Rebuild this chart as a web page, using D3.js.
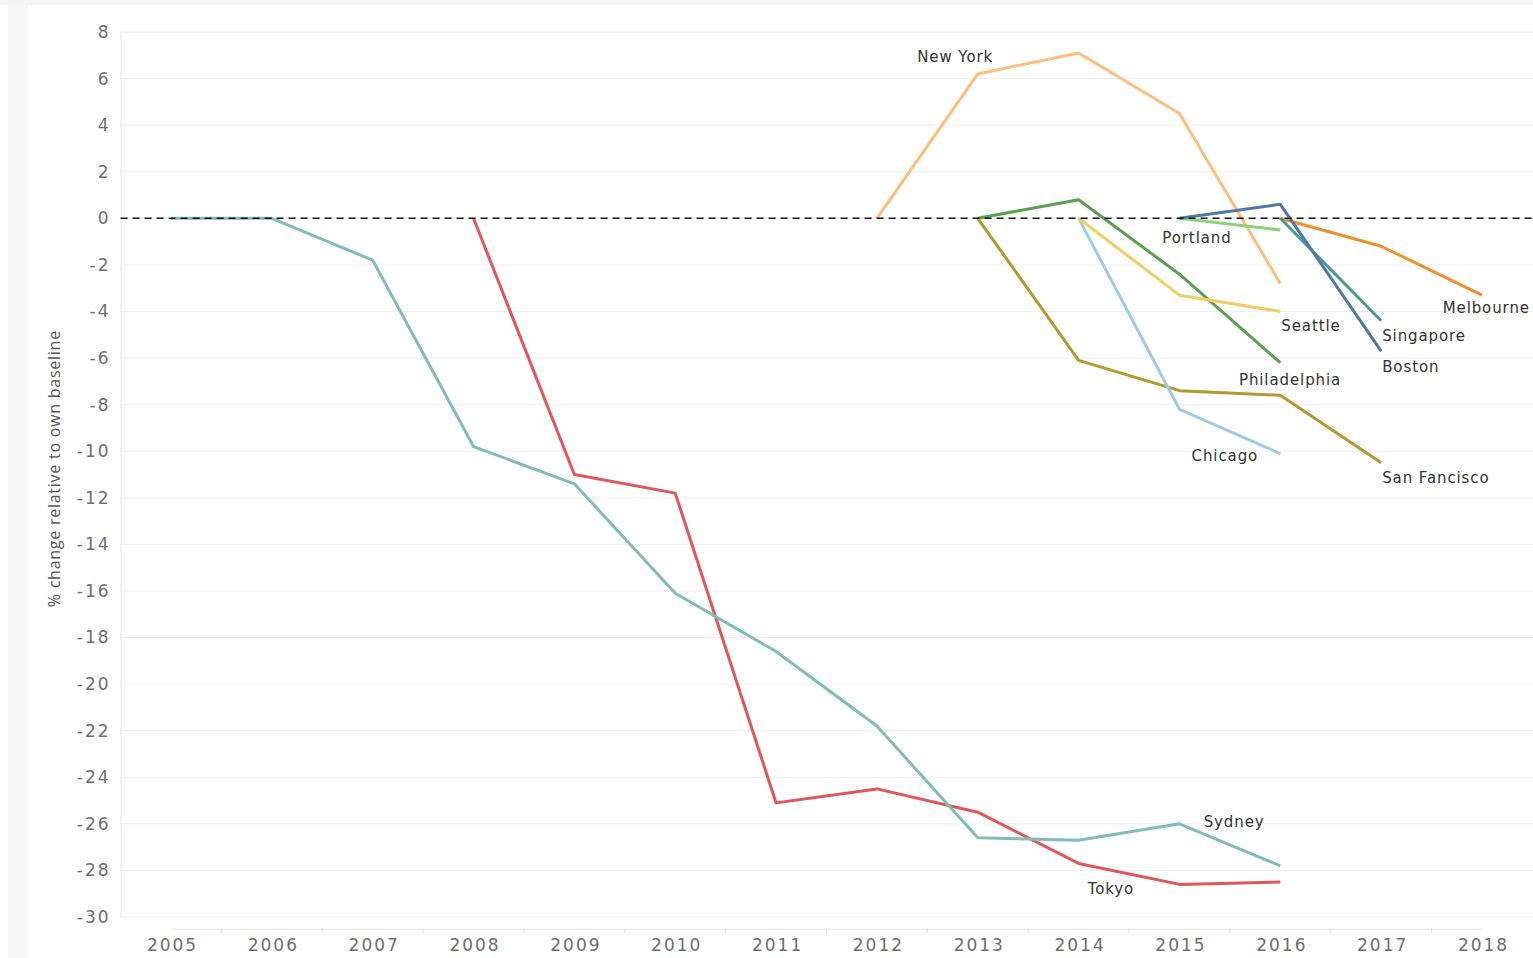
<!DOCTYPE html>
<html>
<head>
<meta charset="utf-8">
<script src="https://cdn.jsdelivr.net/npm/d3@7"></script>
<style>
  body { margin: 0; background: #fff; }
  svg { display: block; }
</style>
</head>
<body>
<div id="chart-area"></div>
<script>
// values, % change relative to own baseline
const sydneyYears = [2005, 2006, 2007, 2008, 2009, 2010, 2011, 2012, 2013, 2014, 2015, 2016];
const sydneyValues = [0, 0, -1.8, -9.8, -11.4, -16.1, -18.6, -21.8, -26.6, -26.7, -26.0, -27.8];

const tokyoYears = [2008, 2009, 2010, 2011, 2012, 2013, 2014, 2015, 2016];
const tokyoValues = [0, -11.0, -11.8, -25.1, -24.5, -25.5, -27.7, -28.6, -28.5];

const newYorkYears = [2012, 2013, 2014, 2015, 2016];
const newYorkValues = [0, 6.2, 7.1, 4.5, -2.8];

const philadelphiaYears = [2013, 2014, 2015, 2016];
const philadelphiaValues = [0, 0.8, -2.4, -6.2];

const sanFranciscoYears = [2013, 2014, 2015, 2016, 2017];
const sanFranciscoValues = [0, -6.1, -7.4, -7.6, -10.5];

const chicagoYears = [2014, 2015, 2016];
const chicagoValues = [0, -8.2, -10.1];

const seattleYears = [2014, 2015, 2016];
const seattleValues = [0, -3.3, -4.0];

const portlandYears = [2015, 2016];
const portlandValues = [0, -0.5];

const bostonYears = [2015, 2016, 2017];
const bostonValues = [0, 0.6, -5.7];

const singaporeYears = [2016, 2017];
const singaporeValues = [0, -4.4];

const melbourneYears = [2016, 2017, 2018];
const melbourneValues = [0, -1.2, -3.3];

const xTickYears = [2005, 2006, 2007, 2008, 2009, 2010, 2011, 2012, 2013, 2014, 2015, 2016, 2017, 2018];
const yTickValues = [8, 6, 4, 2, 0, -2, -4, -6, -8, -10, -12, -14, -16, -18, -20, -22, -24, -26, -28, -30];

const cities = [
    { name: 'Tokyo', years: tokyoYears, values: tokyoValues, color: '#e15759' },
    { name: 'Sydney', years: sydneyYears, values: sydneyValues, color: '#80bdb4' },
    { name: 'New York', years: newYorkYears, values: newYorkValues, color: '#ffbe7d' },
    { name: 'Philadelphia', years: philadelphiaYears, values: philadelphiaValues, color: '#59a14f' },
    { name: 'San Fancisco', years: sanFranciscoYears, values: sanFranciscoValues, color: '#b6992d' },
    { name: 'Chicago', years: chicagoYears, values: chicagoValues, color: '#a0cbe8' },
    { name: 'Seattle', years: seattleYears, values: seattleValues, color: '#f1ce63' },
    { name: 'Portland', years: portlandYears, values: portlandValues, color: '#8cd17d' },
    { name: 'Melbourne', years: melbourneYears, values: melbourneValues, color: '#f28e2b' },
    { name: 'Singapore', years: singaporeYears, values: singaporeValues, color: '#499894' },
    { name: 'Boston', years: bostonYears, values: bostonValues, color: '#4e79a7' }
];

// label anchors in data space (year, value) - left edge / vertical middle of text
const labelPlaces = {
    'New York': [2012.4, 6.95],
    'Portland': [2014.83, -0.83],
    'Seattle': [2016.01, -4.6],
    'Singapore': [2017.01, -5.05],
    'Melbourne': [2017.61, -3.86],
    'Boston': [2017.01, -6.38],
    'Philadelphia': [2015.59, -6.93],
    'Chicago': [2015.12, -10.2],
    'San Fancisco': [2017.01, -11.12],
    'Sydney': [2015.24, -25.9],
    'Tokyo': [2014.09, -28.8]
};

const W = 1533, H = 958;

const svg = d3.select('#chart-area')
    .append('svg')
    .attr('width', W)
    .attr('height', H);

const x = d3.scaleLinear().domain([2005, 2018]).range([171, 1482]);
const y = d3.scaleLinear().domain([-30, 8]).range([917, 32]);

const plotLeft = x(2004.5), plotRight = W;
const plotTop = y(9.0), plotBottom = y(-30.5);

// faint strips left and top (leftover of the screenshot)
svg.append('rect')
    .attr('x', 8).attr('y', 0).attr('width', 20).attr('height', H)
    .attr('fill', '#f6f6f6');
svg.append('rect')
    .attr('x', 0).attr('y', 0).attr('width', W).attr('height', 5)
    .attr('fill', '#f4f4f4');

// grid
svg.append('g')
    .selectAll('line')
    .data(yTickValues)
    .enter()
    .append('line')
    .attr('x1', plotLeft).attr('x2', plotRight)
    .attr('y1', d => y(d)).attr('y2', d => y(d))
    .attr('stroke', '#f0f0f0')
    .attr('stroke-width', 1);

// y axis
const yAxis = svg.append('g')
    .attr('transform', 'translate(' + plotLeft + ',0)')
    .call(d3.axisLeft(y).tickValues(yTickValues).tickFormat(d => String(d)).tickSize(0).tickPadding(10));
yAxis.select('.domain').attr('stroke', '#e6e6e6');
yAxis.selectAll('text')
    .attr('fill', '#6e6e6e')
    .style('font-family', 'DejaVu Sans')
    .style('font-size', '17px')
    .style('letter-spacing', '2px');

// x axis, ticks sit between the years
const xAxis = svg.append('g')
    .attr('transform', 'translate(0,' + plotBottom + ')')
    .call(d3.axisBottom(x).tickValues(xTickYears).tickFormat(d => String(d)).tickSize(0).tickPadding(10));
xAxis.select('.domain').attr('stroke', '#e6e6e6');
xAxis.selectAll('text')
    .attr('fill', '#6e6e6e')
    .attr('dx', 1)
    .style('font-family', 'DejaVu Sans')
    .style('font-size', '17px')
    .style('letter-spacing', '2px');
svg.append('g')
    .selectAll('line')
    .data(xTickYears.slice(0, -1))
    .enter()
    .append('line')
    .attr('x1', d => x(d + 0.5)).attr('x2', d => x(d + 0.5))
    .attr('y1', plotBottom).attr('y2', plotBottom + 4)
    .attr('stroke', '#e0e0e0');

// axis title
svg.append('text')
    .attr('transform', 'translate(60,' + ((plotTop + plotBottom) / 2) + ') rotate(-90)')
    .attr('text-anchor', 'middle')
    .attr('fill', '#555')
    .style('font-family', 'Open Sans')
    .style('font-size', '16px')
    .style('letter-spacing', '0.75px')
    .text('% change relative to own baseline');

// lines
const line = d3.line()
    .x(d => x(d[0]))
    .y(d => y(d[1]));

svg.append('g')
    .selectAll('path')
    .data(cities)
    .enter()
    .append('path')
    .attr('d', d => line(d3.zip(d.years, d.values)))
    .attr('fill', 'none')
    .attr('stroke', d => d.color)
    .attr('stroke-width', 3)
    .attr('stroke-linejoin', 'round');

// zero reference line
svg.append('line')
    .attr('x1', plotLeft).attr('x2', plotRight)
    .attr('y1', y(0)).attr('y2', y(0))
    .attr('stroke', '#111')
    .attr('stroke-width', 1.6)
    .attr('stroke-dasharray', '7,5');

// city labels
svg.append('g')
    .selectAll('text')
    .data(cities)
    .enter()
    .append('text')
    .attr('x', d => x(labelPlaces[d.name][0]))
    .attr('y', d => y(labelPlaces[d.name][1]))
    .attr('dy', '0.35em')
    .attr('fill', '#333')
    .style('font-family', 'DejaVu Sans')
    .style('font-size', '15px')
    .style('letter-spacing', '0.9px')
    .text(d => d.name);
</script>
</body>
</html>
